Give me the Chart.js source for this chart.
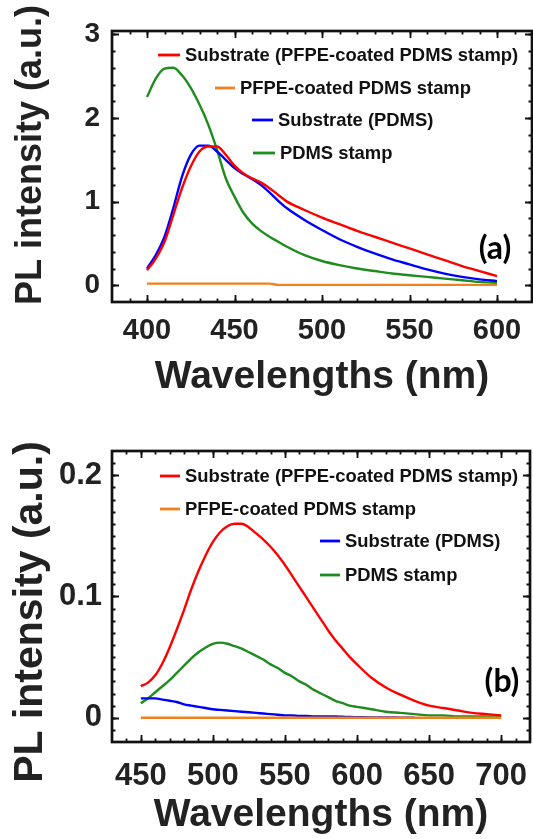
<!DOCTYPE html>
<html>
<head>
<meta charset="utf-8">
<script src="https://cdn.jsdelivr.net/npm/chart.js@4/dist/chart.umd.min.js"></script>
<style>
html,body{margin:0;padding:0;background:#fff;overflow:hidden}
#w{position:relative;width:533px;height:839px;background:#fff}
.c{position:absolute;left:0;width:533px}
#c1{top:0;height:420px}
#c2{top:420px;height:419px}
</style>
</head>
<body>
<div id="w">
  <div class="c" id="c1"><canvas id="a"></canvas></div>
  <div class="c" id="c2"><canvas id="b"></canvas></div>
</div>
<script>
// ---------- DATA ----------
const seriesLabels = ['Substrate (PFPE-coated PDMS stamp)', 'PFPE-coated PDMS stamp', 'Substrate (PDMS)', 'PDMS stamp'];
const xTitle = 'Wavelengths (nm)';
const yTitle = 'PL intensity (a.u.)';

// Panel (a)
const topWl     = [400,405,410,415,420,425,430,435,440,445,450,455,460,465,470,475,480,490,500,510,520,530,540,550,560,570,580,590,600];
const topRed    = [0.18,0.32,0.52,0.84,1.16,1.42,1.60,1.66,1.66,1.56,1.43,1.34,1.28,1.23,1.16,1.08,1.00,0.90,0.81,0.73,0.65,0.58,0.51,0.44,0.37,0.30,0.23,0.17,0.11];
const topOrange = [0.02,0.02,0.02,0.02,0.02,0.02,0.02,0.02,0.02,0.02,0.02,0.02,0.02,0.02,0.02,0.005,0.005,0.005,0.005,0.005,0.005,0.005,0.005,0.005,0.005,0.005,0.005,0.005,0.005];
const topBlue   = [0.20,0.36,0.58,0.92,1.30,1.56,1.67,1.67,1.60,1.50,1.40,1.33,1.27,1.20,1.11,1.01,0.92,0.78,0.66,0.55,0.46,0.38,0.31,0.25,0.19,0.14,0.10,0.07,0.05];
const topGreen  = [2.25,2.47,2.59,2.60,2.51,2.36,2.16,1.92,1.62,1.28,1.06,0.87,0.74,0.65,0.58,0.52,0.46,0.36,0.29,0.24,0.20,0.17,0.14,0.12,0.10,0.08,0.06,0.04,0.03];
const topXTicks = [400,450,500,550,600];
const topYTicks = [0,1,2,3];

// Panel (b)
const botWl     = [450,455,460,465,470,475,480,485,490,495,500,505,510,515,520,525,530,535,540,545,550,555,560,565,570,575,580,585,590,595,600,610,620,630,640,650,660,670,680,690,700];
const botRed    = [0.026,0.029,0.035,0.045,0.058,0.073,0.089,0.106,0.121,0.134,0.145,0.153,0.158,0.160,0.160,0.157,0.152,0.147,0.141,0.134,0.126,0.117,0.108,0.099,0.090,0.081,0.072,0.064,0.057,0.050,0.044,0.033,0.025,0.019,0.014,0.010,0.008,0.006,0.004,0.003,0.002];
const botOrange = [0,0,0,0,0,0,0,0,0,0,0,0,0,0,0,0,0,0,0,0,0,0,0,0,0,0,0,0,0,0,0,0,0,0,0,0,0,0,0,0,0];
const botBlue   = [0.016,0.016,0.016,0.015,0.014,0.013,0.011,0.010,0.009,0.008,0.007,0.0065,0.006,0.0055,0.005,0.0045,0.004,0.0035,0.003,0.0025,0.002,0.002,0.0015,0.0015,0.001,0.001,0.001,0.001,0.0008,0.0006,0.0005,0.0003,0.0002,0.0001,0,null,null,null,null,null,null];
const botGreen  = [0.012,0.016,0.021,0.026,0.031,0.037,0.043,0.049,0.054,0.058,0.061,0.062,0.061,0.059,0.057,0.054,0.051,0.048,0.044,0.041,0.037,0.034,0.030,0.027,0.023,0.020,0.017,0.014,0.012,0.010,0.009,0.007,0.005,0.004,0.003,0.002,0.002,0.001,0.001,0.001,0.001];
const botXTicks = [450,500,550,600,650,700];
const botYTicks = [0,0.1,0.2];

// ---------- STYLE ----------
const COLORS = ['#ff0000', '#f0821e', '#0000ff', '#1e8c1e'];
const FONT = "'Liberation Sans', Arial, Helvetica, sans-serif";
const TXT = '#222222';

function pts(xs, ys){ return xs.map((x,i)=>({x:x, y:ys[i]})); }

const framePlugin = {
  id:'frame',
  afterDatasetsDraw(chart, args, o){
    const {ctx, chartArea:a, scales:{x,y}} = chart;
    ctx.save();
    ctx.strokeStyle = '#111';
    ctx.lineCap = 'butt';
    const tick = (vals, axis, len) => {
      ctx.beginPath();
      vals.forEach(v => {
        if (axis === 'x') {
          if (v <= x.min || v >= x.max) return;
          const p = Math.round(x.getPixelForValue(v)) + 0.5;
          ctx.moveTo(p, a.bottom); ctx.lineTo(p, a.bottom - len);
          ctx.moveTo(p, a.top); ctx.lineTo(p, a.top + len);
        } else {
          if (v <= y.min || v >= y.max) return;
          const p = Math.round(y.getPixelForValue(v)) + 0.5;
          ctx.moveTo(a.left, p); ctx.lineTo(a.left + len, p);
          ctx.moveTo(a.right, p); ctx.lineTo(a.right - len, p);
        }
      });
      ctx.stroke();
    };
    const xMinor = [], yMinor = [];
    for (let v = o.xMin; v <= o.xMax + 1e-9; v += o.xStep) xMinor.push(+v.toFixed(6));
    for (let v = o.yMin; v <= o.yMax + 1e-9; v += o.yStep) yMinor.push(+v.toFixed(6));
    ctx.lineWidth = 1.8;
    tick(xMinor, 'x', 3.5);
    tick(yMinor, 'y', 3.5);
    tick(x.ticks.map(t=>t.value), 'x', 7);
    tick(y.ticks.map(t=>t.value), 'y', 7);
    ctx.lineWidth = 2.7;
    ctx.strokeRect(a.left, a.top, a.right - a.left, a.bottom - a.top);
    ctx.restore();
  }
};

const legendPlugin = {
  id:'customLegend',
  afterDraw(chart, args, o){
    const ctx = chart.ctx;
    ctx.save();
    // rotated y-axis title
    if (o.yTitle) {
      ctx.save();
      ctx.font = 'bold ' + o.yTitle.size + 'px ' + FONT;
      ctx.fillStyle = TXT;
      ctx.textAlign = 'center';
      ctx.textBaseline = 'middle';
      ctx.translate(o.yTitle.x, o.yTitle.y);
      ctx.rotate(-Math.PI / 2);
      ctx.fillText(o.yTitle.text, 0, 0);
      ctx.restore();
    }
    ctx.font = 'bold ' + o.size + 'px ' + FONT;
    ctx.textBaseline = 'middle';
    ctx.textAlign = 'left';
    chart.data.datasets.forEach((ds, i) => {
      const p = o.pos[i];
      ctx.strokeStyle = ds.borderColor;
      ctx.lineWidth = 2.8;
      ctx.beginPath();
      ctx.moveTo(p[0], p[2]); ctx.lineTo(p[1], p[2]);
      ctx.stroke();
      ctx.fillStyle = '#111';
      ctx.fillText(ds.label, p[1] + 5, p[2] + 1);
    });
    if (o.panel) {
      ctx.font = 'bold ' + o.panel.size + 'px Lato, ' + FONT;
      ctx.textAlign = 'center';
      ctx.fillStyle = '#000';
      ctx.fillText(o.panel.text, o.panel.x, o.panel.y);
    }
    ctx.restore();
  }
};

function makeChart(id, cfg){
  return new Chart(document.getElementById(id), {
    type:'line',
    data:{ datasets: cfg.series.map((s,i)=>({
      label: seriesLabels[i], data: pts(cfg.wl, s), borderColor: COLORS[i], backgroundColor: COLORS[i],
      borderWidth: 2.4, pointRadius: 0, fill:false, cubicInterpolationMode:'monotone', spanGaps:false
    })) },
    options:{
      responsive:true, maintainAspectRatio:false, animation:false, devicePixelRatio:1,
      layout:{ padding:{ top:cfg.top, right:cfg.right, left:0, bottom:0 } },
      events:[],
      plugins:{
        legend:{display:false}, tooltip:{enabled:false},
        frame: cfg.frame,
        customLegend: cfg.legend
      },
      scales:{
        x:{
          type:'linear', min:cfg.xMin, max:cfg.xMax,
          afterBuildTicks: s => { s.ticks = cfg.xTicks.map(v=>({value:v})); },
          afterFit: s => { s.height = cfg.xH; s.paddingLeft = 0; s.paddingRight = 0; },
          grid:{display:false, drawTicks:false}, border:{display:false},
          ticks:{ font:{family:FONT, size:cfg.xTickSize, weight:'bold'}, color:TXT, padding:cfg.xTickPad, maxRotation:0, autoSkip:false },
          title:{ display:true, text:xTitle, color:TXT, font:{family:FONT, size:39, weight:'bold'}, padding:{top:0, bottom:cfg.xTitlePad} }
        },
        y:{
          type:'linear', min:cfg.yMin, max:cfg.yMax,
          afterBuildTicks: s => { s.ticks = cfg.yTicks.map(v=>({value:v})); },
          afterFit: s => { s.width = 112; s.paddingTop = 0; s.paddingBottom = 0; },
          grid:{display:false, drawTicks:false}, border:{display:false},
          ticks:{ font:{family:FONT, size:cfg.yTickSize, weight:'bold'}, color:TXT, padding:cfg.yTickPad, callback: v => String(v) },
          title:{ display:false, text:yTitle }
        }
      }
    },
    plugins:[framePlugin, legendPlugin]
  });
}

makeChart('a', {
  wl: topWl, series:[topRed, topOrange, topBlue, topGreen],
  top:31, right:1, xH:118,
  xMin:380, xMax:620, yMin:-0.2, yMax:3.04,
  xTicks: topXTicks, yTicks: topYTicks,
  xTickSize:29, xTickPad:12, xTitlePad:19,
  yTickSize:28, yTickPad:12,
  frame:{ xMin:380, xMax:620, xStep:10, yMin:-0.2, yMax:3.04, yStep:0.2 },
  legend:{ size:18.4, pos:[[158,180,55],[215,235,88],[252,273,120],[253,275,153]],
           panel:{text:'(a)', x:495, y:249, size:32},
           yTitle:{text:yTitle, x:31, y:155, size:36} }
});

makeChart('b', {
  wl: botWl, series:[botRed, botOrange, botBlue, botGreen],
  top:31, right:3, xH:97,
  xMin:430, xMax:720, yMin:-0.02, yMax:0.22,
  xTicks: botXTicks, yTicks: botYTicks,
  xTickSize:31, xTickPad:16, xTitlePad:0,
  yTickSize:31, yTickPad:10,
  frame:{ xMin:430, xMax:720, xStep:10, yMin:-0.02, yMax:0.22, yStep:0.01 },
  legend:{ size:18.4, pos:[[160,180,56],[160,180,89],[320,340,121],[320,340,155]],
           panel:{text:'(b)', x:502, y:262, size:32},
           yTitle:{text:yTitle, x:31, y:192, size:41} }
});
</script>
</body>
</html>
